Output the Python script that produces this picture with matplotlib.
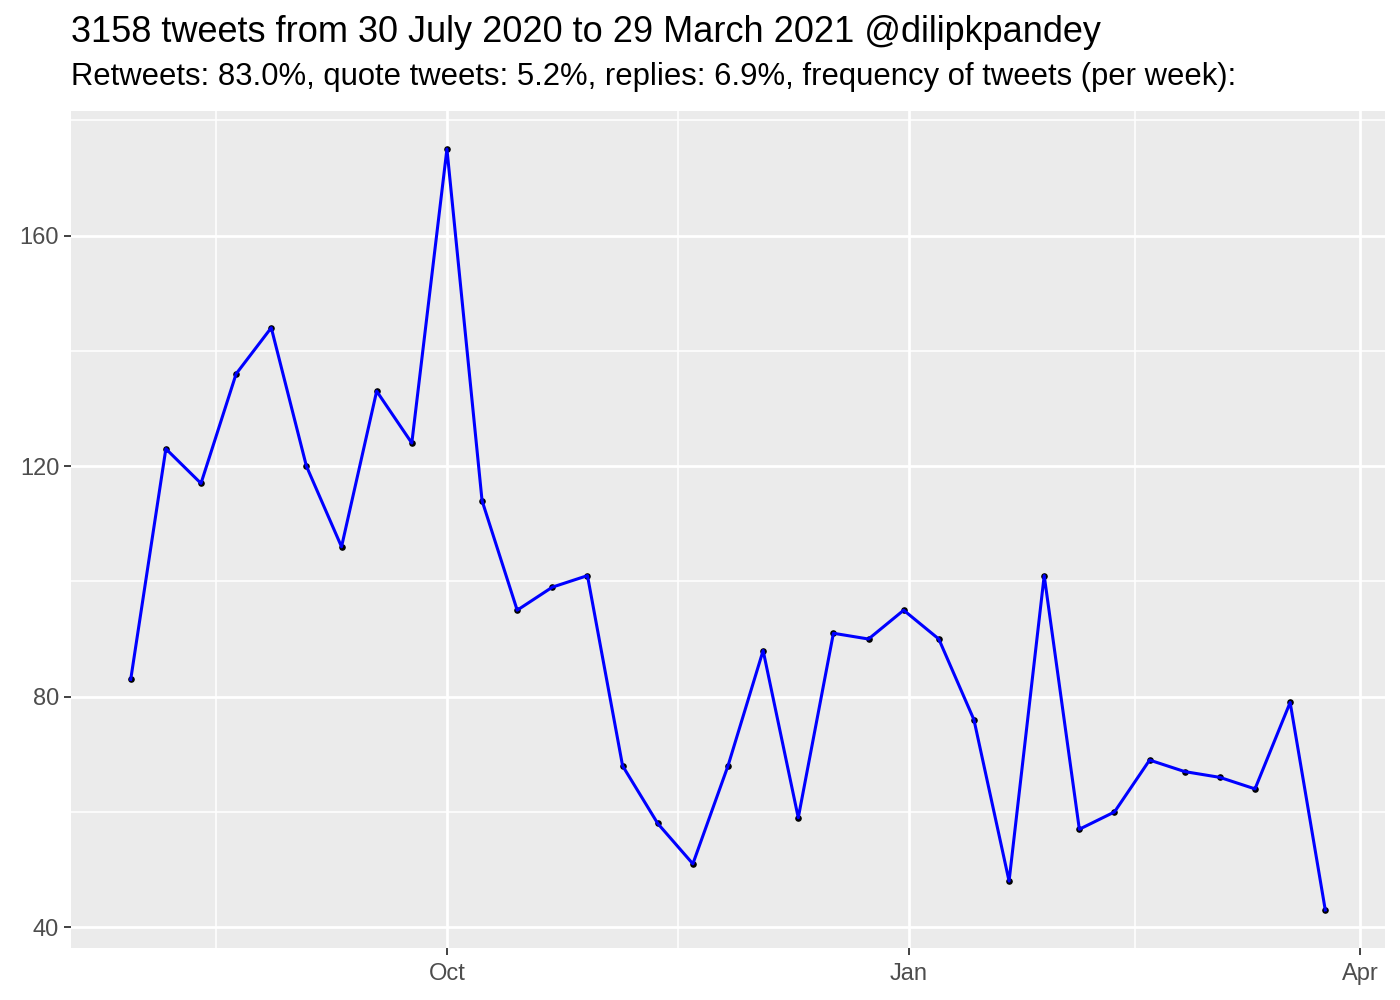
import numpy as np
import pandas as pd
import matplotlib
matplotlib.use("Agg")
import matplotlib.pyplot as plt
import matplotlib.dates as mdates

plt.rcParams["font.family"] = ["Liberation Sans", "DejaVu Sans"]

# weekly tweet counts, weeks starting 30 July 2020
week_start = pd.date_range("2020-07-30", periods=35, freq="7D")
tweets = [83, 123, 117, 136, 144, 120, 106, 133, 124, 175,
          114, 95, 99, 101, 68, 58, 51, 68, 88, 59,
          91, 90, 95, 90, 76, 48, 101, 57, 60, 69,
          67, 66, 64, 79, 43]

title = "3158 tweets from 30 July 2020 to 29 March 2021 @dilipkpandey"
subtitle = "Retweets: 83.0%, quote tweets: 5.2%, replies: 6.9%, frequency of tweets (per week):"

major_x = pd.to_datetime(["2020-10-01", "2021-01-01", "2021-04-01"])
minor_x = pd.to_datetime(["2020-08-16", "2020-11-16", "2021-02-15"])
x_labels = ["Oct", "Jan", "Apr"]
major_y = [40, 80, 120, 160]
minor_y = [60, 100, 140, 180]

fig = plt.figure(figsize=(14, 10), dpi=100)
ax = fig.add_axes([71 / 1400, 1 - 948 / 1000, (1385 - 71) / 1400, (948 - 111) / 1000])
ax.set_facecolor("#EBEBEB")

# ggplot style 5% expansion
x0, x1 = mdates.date2num(week_start[0]), mdates.date2num(week_start[-1])
dx = (x1 - x0) * 0.05
ax.set_xlim(x0 - dx, x1 + dx)
dy = (max(tweets) - min(tweets)) * 0.05
ax.set_ylim(min(tweets) - dy, max(tweets) + dy)

for v in minor_x:
    ax.axvline(v, color="white", lw=1.1, zorder=0)
for v in minor_y:
    ax.axhline(v, color="white", lw=1.1, zorder=0)
for v in major_x:
    ax.axvline(v, color="white", lw=2.0, zorder=0)
for v in major_y:
    ax.axhline(v, color="white", lw=2.0, zorder=0)

ax.scatter(week_start, tweets, s=14, color="black", zorder=2)
ax.plot(week_start, tweets, color="#0000FF", lw=2.2, zorder=3)

ax.set_xticks(major_x)
ax.set_xticklabels(x_labels)
ax.set_yticks(major_y)
ax.tick_params(axis="both", colors="#333333", labelcolor="#4D4D4D",
               labelsize=17, length=5, width=1.3, pad=3.5)
ax.tick_params(axis="x", pad=5.5)
for s in ax.spines.values():
    s.set_visible(False)

fig.text(71 / 1400, 1 - 32 / 1000, title, fontsize=26, va="center", ha="left")
fig.text(71 / 1400, 1 - 77 / 1000, subtitle, fontsize=22.3, va="center", ha="left")

fig.savefig("out.png", dpi=100)
